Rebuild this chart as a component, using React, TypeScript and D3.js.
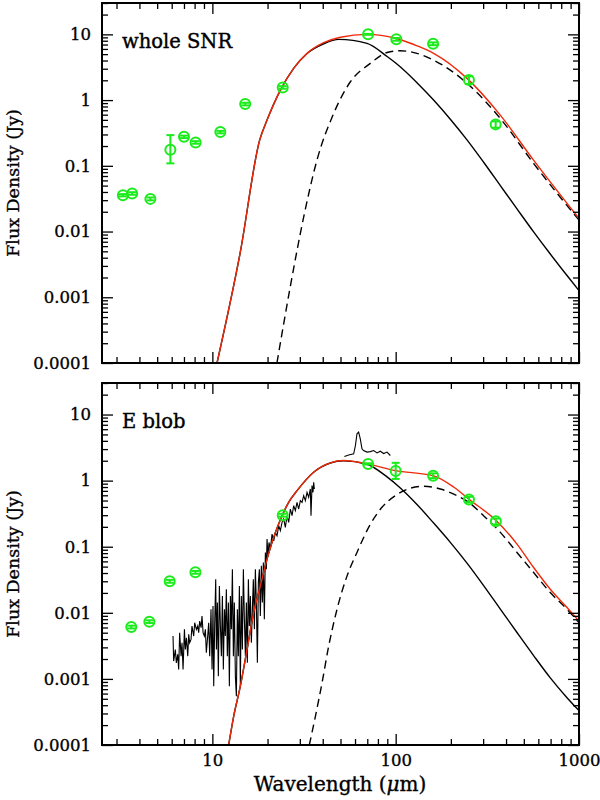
import { useEffect, useRef } from 'react';
import * as d3 from 'd3';

const xTickLabels = ['10', '100', '1000'];
const yTickLabels = ['0.0001', '0.001', '0.01', '0.1', '1', '10'];

// whole SNR photometry (Jy)
const snrWave = [3.25, 3.65, 4.59, 5.9, 7.0, 8.1, 11.05, 15.1, 24.2, 70.7, 100.8, 160, 251, 351];
const snrFlux = [0.0357, 0.038, 0.0314, 0.175, 0.276, 0.227, 0.326, 0.87, 1.56, 10.0, 8.4, 7.2, 2.02, 0.427];
const snrLo = [0.0343, 0.0363, 0.0298, 0.109, 0.264, 0.217, 0.312, 0.83, 1.49, 9.85, 8.0, 6.85, 1.76, 0.38];
const snrHi = [0.0371, 0.0397, 0.033, 0.293, 0.288, 0.237, 0.34, 0.91, 1.63, 10.15, 8.8, 7.55, 2.3, 0.475];

// whole SNR model curves
const snrTotalWave = [10.6, 14.21, 18.11, 19.87, 23.5, 27.75, 32.85, 40.5, 49.9, 69.8, 100.8, 130.7, 161, 245, 372, 565, 1000];
const snrTotalFlux = [1e-4, 0.0049, 0.246, 0.496, 1.42, 3.04, 5.14, 7.46, 9.02, 10.0, 8.64, 6.7, 5.14, 2.14, 0.591, 0.122, 0.0158];
const snrWarmWave = [10.6, 14.21, 18.11, 19.87, 23.5, 27.75, 32.85, 40.5, 48.9, 69.8, 89.8, 100.8, 130.7, 161, 198.6, 244.9, 301.8, 372.3, 459, 565.5, 697.3, 860.3, 1000];
const snrWarmFlux = [1e-4, 0.0049, 0.246, 0.496, 1.42, 3.04, 5.12, 7.2, 8.4, 7.3, 4.6, 3.6, 1.84, 1.0, 0.511, 0.248, 0.1133, 0.05, 0.0221, 0.00989, 0.00455, 0.00214, 0.00126];
const snrColdWave = [22.5, 26.6, 31.5, 37.2, 45.9, 56.6, 72.7, 89.8, 106, 130.7, 161, 245, 372, 565, 1000];
const snrColdFlux = [1e-4, 0.00144, 0.0167, 0.122, 0.627, 1.9, 3.62, 5.3, 5.63, 5.14, 4.06, 1.8, 0.526, 0.109, 0.0149];

// E blob photometry (Jy)
const blobWave = [3.61, 4.53, 5.85, 8.08, 24.2, 70.7, 100, 160, 251, 352];
const blobFlux = [0.0061, 0.00735, 0.03, 0.041, 0.3, 1.79, 1.4, 1.19, 0.52, 0.242];
const blobLo = [0.0058, 0.007, 0.0285, 0.039, 0.285, 1.75, 1.06, 1.09, 0.47, 0.217];
const blobHi = [0.0064, 0.0077, 0.0315, 0.043, 0.315, 1.83, 1.86, 1.29, 0.57, 0.267];

// E blob model curves
const blobTotalWave = [12.27, 13.07, 14.21, 15.46, 16.8, 18.27, 19.87, 21.6, 23.99, 26.07, 28.97, 35.68, 44.0, 52.0, 69.8, 99.5, 161, 207, 250, 354, 459, 565.5, 697.3, 860.3, 1000];
const blobTotalFlux = [1e-4, 2.72e-4, 7.75e-4, 0.00279, 0.01007, 0.0255, 0.0648, 0.1384, 0.294, 0.47, 0.705, 1.341, 1.856, 2.012, 1.792, 1.418, 1.18, 0.8, 0.528, 0.247, 0.1095, 0.0485, 0.02274, 0.012, 0.0075];
const blobWarmWave = [12.27, 13.07, 14.21, 15.46, 16.8, 18.27, 19.87, 21.6, 23.99, 26.07, 28.97, 35.68, 44.0, 52.0, 69.8, 89.7, 106, 130.7, 161.1, 198.6, 244.9, 301.8, 372.3, 459, 565.5, 697.3, 860.3, 1000];
const blobWarmFlux = [1e-4, 2.72e-4, 7.75e-4, 0.00279, 0.01007, 0.0255, 0.0648, 0.1384, 0.294, 0.47, 0.705, 1.34, 1.85, 2.0, 1.77, 1.14, 0.776, 0.436, 0.228, 0.1165, 0.0565, 0.02585, 0.0114, 0.00504, 0.002256, 0.001038, 0.00052, 0.000331];
const blobColdWave = [33.8, 36.48, 39.66, 43.1, 47.86, 54.3, 61.5, 71.2, 84.2, 99.5, 120.2, 142.1, 175.2, 216.1, 250, 301.8, 372.3, 459, 565.5, 697.3, 860.3, 1000];
const blobColdFlux = [1e-4, 2.72e-4, 8.73e-4, 0.00313, 0.0113, 0.0362, 0.0819, 0.1963, 0.395, 0.592, 0.767, 0.822, 0.748, 0.592, 0.47, 0.294, 0.1648, 0.0819, 0.0407, 0.02025, 0.0113, 0.0071];

// E blob IRS spectrum
const irsWave = [
  6.10, 6.15, 6.28, 6.36, 6.47, 6.55, 6.63, 6.75, 6.83, 6.92,
  7.04, 7.12, 7.22, 7.34, 7.43, 7.52, 7.65, 7.74, 7.91, 8.01,
  8.18, 8.32, 8.42, 8.53, 8.68, 8.78, 8.90, 9.04, 9.16, 9.27,
  9.43, 9.55, 9.67, 9.83, 9.96, 10.08, 10.17, 10.30, 10.43, 10.52,
  10.65, 10.78, 10.92, 11.06, 11.20, 11.34, 11.48, 11.63, 11.77, 11.92,
  12.07, 12.23, 12.38, 12.54, 12.70, 12.86, 13.02, 13.18, 13.35, 13.52,
  13.69, 13.86, 14.04, 14.21, 14.39, 14.58, 14.76, 14.95, 15.14, 15.33,
  15.52, 15.72, 15.91, 16.12, 16.32, 16.53, 16.73, 16.95, 17.16, 17.38,
  17.60, 17.82, 18.05, 18.27, 18.50, 18.74, 18.97, 19.21, 19.46, 19.70,
  19.87, 20.12, 20.37, 20.72, 21.16, 21.61, 22.06, 22.53, 23.01, 23.49,
  23.99, 24.49, 25.01, 25.54, 26.08, 26.64, 27.20, 27.77, 28.36, 28.96,
  29.57, 30.20, 30.84, 31.49, 32.16, 32.84, 33.53, 34.23, 34.52, 34.96,
  35.40, 35.70, 36.00,
];
const irsFlux = [
  0.00445, 0.00186, 0.00279, 0.00175, 0.00235, 0.00139, 0.0050, 0.00221, 0.00353, 0.00139,
  0.00562, 0.00279, 0.0042, 0.00221, 0.00472, 0.00353, 0.00396, 0.00632, 0.00445, 0.00709,
  0.00562, 0.00632, 0.0050, 0.00752, 0.00596, 0.00895, 0.0050, 0.00445, 0.00562, 0.00249,
  0.00445, 0.00709, 0.00221, 0.0113, 0.00139, 0.0127, 0.000775, 0.00709, 0.0322, 0.00279,
  0.01427, 0.0011, 0.0255, 0.00632, 0.00221, 0.018, 0.00139, 0.0113, 0.00445, 0.0227,
  0.00221, 0.01427, 0.000775, 0.018, 0.00562, 0.0457, 0.00221, 0.01427, 0.0011, 0.000547,
  0.0113, 0.00221, 0.0255, 0.000775, 0.018, 0.00279, 0.0457, 0.00797, 0.00221, 0.01427,
  0.00175, 0.0322, 0.00632, 0.018, 0.00353, 0.0113, 0.0322, 0.00562, 0.0457, 0.01427,
  0.00175, 0.0287, 0.0457, 0.00895, 0.0514, 0.01427, 0.0577, 0.00797, 0.0818, 0.0457,
  0.1304, 0.0729, 0.1161, 0.092, 0.1553, 0.123, 0.1646, 0.1466, 0.2078, 0.1746,
  0.2335, 0.2623, 0.196, 0.2946, 0.2335, 0.372, 0.2946, 0.418, 0.351, 0.4695,
  0.372, 0.4977, 0.4695, 0.5929, 0.4977, 0.666, 0.5595, 0.7482, 0.2946, 0.8405,
  0.666, 0.9445, 0.7482,
];

// E blob PACS spectrum
const pacsWave = [52.5, 55.4, 59.0, 60.3, 61.5, 62.8, 64.1, 65.5, 66.8, 69.8, 72.7, 75.8, 79.1, 82.4, 86.0, 89.7, 93.5];
const pacsFlux = [2.31, 2.45, 2.54, 3.4, 5.11, 5.42, 4.29, 3.03, 2.85, 2.7, 2.75, 2.85, 2.63, 2.79, 2.57, 2.7, 2.4];

const FONT = '"DejaVu Serif", "Liberation Serif", serif';
const GREEN = '#1aeb1a';
const RED = '#ee2a0a';
const LEFT = 102;
const RIGHT = 579;

type Pt = [number, number];
const zip = (w: number[], f: number[]): Pt[] => w.map((v, i) => [v, f[i]]);

interface PanelCfg {
  id: string;
  title: string;
  top: number;
  bottom: number;
  showX: boolean;
  pts: { wave: number[]; flux: number[]; lo: number[]; hi: number[] };
  total: Pt[];
  warm: Pt[];
  cold: Pt[];
  spectra: Pt[][];
}

function drawPanel(svg: d3.Selection<SVGSVGElement, unknown, null, undefined>, p: PanelCfg) {
  const x = d3.scaleLog().domain([2.5, 1000]).range([LEFT, RIGHT]);
  const y = d3.scaleLog().domain([1e-4, 30]).range([p.bottom, p.top]);

  const smooth = d3.line<Pt>().x(d => x(d[0])).y(d => y(d[1])).curve(d3.curveMonotoneX);
  const jagged = d3.line<Pt>().x(d => x(d[0])).y(d => y(d[1]));

  const clipId = `clip-${p.id}`;
  svg.append('clipPath').attr('id', clipId).append('rect')
    .attr('x', LEFT).attr('y', p.top).attr('width', RIGHT - LEFT).attr('height', p.bottom - p.top);
  const plot = svg.append('g').attr('clip-path', `url(#${clipId})`);

  plot.append('path').attr('d', smooth(p.warm)).attr('fill', 'none')
    .attr('stroke', '#000').attr('stroke-width', 1.4);
  plot.append('path').attr('d', smooth(p.cold)).attr('fill', 'none')
    .attr('stroke', '#000').attr('stroke-width', 1.4).attr('stroke-dasharray', '8,5');
  p.spectra.forEach(s => {
    plot.append('path').attr('d', jagged(s)).attr('fill', 'none')
      .attr('stroke', '#000').attr('stroke-width', 1.1);
  });
  plot.append('path').attr('d', smooth(p.total)).attr('fill', 'none')
    .attr('stroke', RED).attr('stroke-width', 1.4);

  // photometry with error bars
  const pg = plot.append('g').attr('stroke', GREEN).attr('fill', 'none').attr('stroke-width', 2);
  p.pts.wave.forEach((w, i) => {
    const cx = x(w);
    const yl = y(p.pts.lo[i]);
    const yh = y(p.pts.hi[i]);
    pg.append('line').attr('x1', cx).attr('x2', cx).attr('y1', yl).attr('y2', yh);
    pg.append('line').attr('x1', cx - 4).attr('x2', cx + 4).attr('y1', yl).attr('y2', yl);
    pg.append('line').attr('x1', cx - 4).attr('x2', cx + 4).attr('y1', yh).attr('y2', yh);
    pg.append('circle').attr('cx', cx).attr('cy', y(p.pts.flux[i])).attr('r', 5);
  });

  // axes with inward ticks on all four sides
  const majorY = yTickLabels.map(Number);
  const minorY = majorY.flatMap(d => d3.range(2, 10).map(k => k * d)).filter(v => v <= 30);
  const majorX = xTickLabels.map(Number);
  const minorX = [1, 10, 100].flatMap(d => d3.range(2, 10).map(k => k * d)).filter(v => v > 2.5 && v < 1000);

  const style = (g: d3.Selection<SVGGElement, unknown, null, undefined>) => {
    g.attr('font-family', FONT).attr('font-size', 16.5);
    g.select('.domain').remove();
    g.selectAll('.tick line').attr('stroke', '#000').attr('stroke-width', 1.3);
    g.selectAll('.tick text').attr('fill', '#000').attr('stroke', '#000').attr('stroke-width', 0.35);
  };
  const none = () => '';

  svg.append('g').attr('transform', `translate(${LEFT},0)`)
    .call(d3.axisLeft(y).tickValues(majorY).tickSize(-11).tickPadding(11).tickFormat((_, i) => yTickLabels[i]))
    .call(style);
  svg.append('g').attr('transform', `translate(${LEFT},0)`)
    .call(d3.axisLeft(y).tickValues(minorY).tickSize(-6).tickFormat(none)).call(style);
  svg.append('g').attr('transform', `translate(${RIGHT},0)`)
    .call(d3.axisRight(y).tickValues(majorY).tickSize(-11).tickFormat(none)).call(style);
  svg.append('g').attr('transform', `translate(${RIGHT},0)`)
    .call(d3.axisRight(y).tickValues(minorY).tickSize(-6).tickFormat(none)).call(style);

  svg.append('g').attr('transform', `translate(0,${p.bottom})`)
    .call(d3.axisBottom(x).tickValues(majorX).tickSize(-11).tickPadding(9)
      .tickFormat((_, i) => (p.showX ? xTickLabels[i] : '')))
    .call(style);
  svg.append('g').attr('transform', `translate(0,${p.bottom})`)
    .call(d3.axisBottom(x).tickValues(minorX).tickSize(-6).tickFormat(none)).call(style);
  svg.append('g').attr('transform', `translate(0,${p.top})`)
    .call(d3.axisTop(x).tickValues(majorX).tickSize(-11).tickFormat(none)).call(style);
  svg.append('g').attr('transform', `translate(0,${p.top})`)
    .call(d3.axisTop(x).tickValues(minorX).tickSize(-6).tickFormat(none)).call(style);

  svg.append('rect').attr('x', LEFT).attr('y', p.top).attr('width', RIGHT - LEFT).attr('height', p.bottom - p.top)
    .attr('fill', 'none').attr('stroke', '#000').attr('stroke-width', 2);

  svg.append('text').attr('x', LEFT + 20).attr('y', p.top + 45)
    .attr('font-family', FONT).attr('font-size', 19.5).attr('fill', '#000')
    .attr('stroke', '#000').attr('stroke-width', 0.4).text(p.title);

  svg.append('text').attr('transform', `translate(19,${(p.top + p.bottom) / 2}) rotate(-90)`)
    .attr('text-anchor', 'middle').attr('font-family', FONT).attr('font-size', 17.5).attr('fill', '#000')
    .attr('stroke', '#000').attr('stroke-width', 0.35)
    .text('Flux Density (Jy)');
}

export default function App() {
  const ref = useRef<SVGSVGElement>(null);

  useEffect(() => {
    if (!ref.current) return;
    const svg = d3.select(ref.current);
    svg.selectAll('*').remove();

    drawPanel(svg, {
      id: 'snr', title: 'whole SNR', top: 3, bottom: 363, showX: false,
      pts: { wave: snrWave, flux: snrFlux, lo: snrLo, hi: snrHi },
      total: zip(snrTotalWave, snrTotalFlux),
      warm: zip(snrWarmWave, snrWarmFlux),
      cold: zip(snrColdWave, snrColdFlux),
      spectra: [],
    });
    drawPanel(svg, {
      id: 'blob', title: 'E blob', top: 383, bottom: 745, showX: true,
      pts: { wave: blobWave, flux: blobFlux, lo: blobLo, hi: blobHi },
      total: zip(blobTotalWave, blobTotalFlux),
      warm: zip(blobWarmWave, blobWarmFlux),
      cold: zip(blobColdWave, blobColdFlux),
      spectra: [zip(irsWave, irsFlux), zip(pacsWave, pacsFlux)],
    });

    const xl = svg.append('text').attr('x', 340).attr('y', 791).attr('text-anchor', 'middle')
      .attr('font-family', FONT).attr('font-size', 20).attr('fill', '#000')
      .attr('stroke', '#000').attr('stroke-width', 0.35);
    xl.append('tspan').text('Wavelength (');
    xl.append('tspan').attr('font-style', 'italic').text('μ');
    xl.append('tspan').text('m)');
  }, []);

  return (
    <svg ref={ref} width={600} height={800}
      style={{ position: 'absolute', left: 0, top: 0, background: '#fff' }} />
  );
}
